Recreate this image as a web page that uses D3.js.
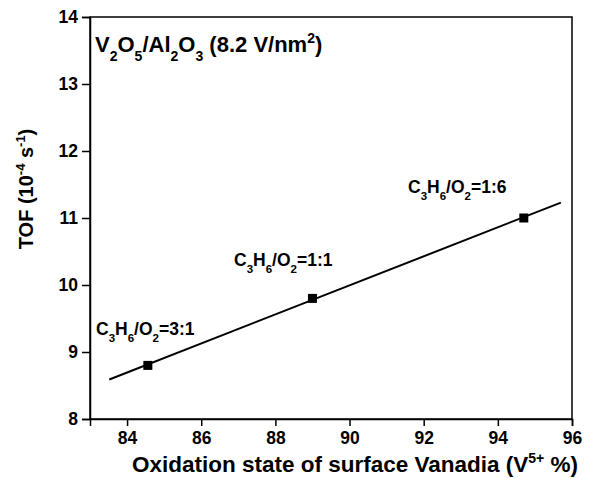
<!DOCTYPE html>
<html><head><meta charset="utf-8">
<script src="https://cdn.jsdelivr.net/npm/d3@7"></script>
<style>
body{margin:0;background:#fff;}
text{font-family:"Liberation Sans",Arial,sans-serif;font-weight:bold;fill:#000;}
</style></head>
<body><svg id="c" width="598" height="479"></svg>
<script>
// Data
const oxidation = [84.56, 89.0, 94.7];
const tof = [8.8, 9.8, 11.0];
const fitX = [83.52, 95.7];
const fitY = [8.59, 11.23];
const labels = ["C3H6/O2=3:1", "C3H6/O2=1:1", "C3H6/O2=1:6"];
const xTicks = [84, 86, 88, 90, 92, 94, 96];
const yTicks = [8, 9, 10, 11, 12, 13, 14];

const svg = d3.select("#c");
const L = 90, R = 572, T = 17, B = 419;
const x = d3.scaleLinear().domain([83, 96]).range([L, R]);
const y = d3.scaleLinear().domain([8, 14]).range([B, T]);

// frame
svg.append("rect").attr("x", L).attr("y", T).attr("width", R - L).attr("height", B - T)
  .attr("fill", "none").attr("stroke", "#000").attr("stroke-width", 1.5);

// axes
const xMinor = d3.range(83, 96, 2);
const yMinor = d3.range(8.5, 14, 1);
const gx = svg.append("g").attr("transform", `translate(0,${B})`);
gx.call(d3.axisBottom(x).tickValues(xMinor).tickSize(4).tickFormat(""));
gx.call(d3.axisBottom(x).tickValues(xTicks).tickSize(7).tickPadding(6).tickFormat(d3.format("d")));
const gy = svg.append("g").attr("transform", `translate(${L},0)`);
gy.call(d3.axisLeft(y).tickValues(yMinor).tickSize(4).tickFormat(""));
gy.call(d3.axisLeft(y).tickValues(yTicks).tickSize(8).tickPadding(4).tickFormat(d3.format("d")));
svg.selectAll(".domain").attr("stroke-width", 1.5);
svg.selectAll(".tick line").attr("stroke-width", 1.5);
svg.selectAll(".tick text").style("font-size", "17.5px").style("font-family", "'Liberation Sans',Arial,sans-serif").style("font-weight", "bold");

// fit line
svg.append("path")
  .datum(fitX.map((v, i) => [v, fitY[i]]))
  .attr("d", d3.line().x(d => x(d[0])).y(d => y(d[1])))
  .attr("fill", "none").attr("stroke", "#000").attr("stroke-width", 2);

// markers
svg.selectAll("rect.pt").data(oxidation).enter().append("rect").attr("class", "pt")
  .attr("x", (d) => x(d) - 4.5).attr("y", (d, i) => y(tof[i]) - 4.5)
  .attr("width", 9).attr("height", 9).attr("fill", "#000");

// rich text helper: parts [text, mode] mode: 0 normal, 1 sub, 2 sup
function rich(px, py, parts, size, subSize, subOff) {
  const t = svg.append("text").attr("x", px).attr("y", py).style("font-size", size + "px");
  let prev = 0;
  const so = subOff || 0.35;
  parts.forEach(([s, m]) => {
    const off = (m === 1 ? size * so : m === 2 ? -size * 0.42 : 0);
    const prevOff = (prev === 1 ? size * so : prev === 2 ? -size * 0.42 : 0);
    t.append("tspan").attr("dy", off - prevOff).style("font-size", (m ? subSize : size) + "px").text(s);
    prev = m;
  });
  return t;
}
function chem(lbl) {
  const eq = lbl.indexOf("=");
  const head = lbl.slice(0, eq), tail = lbl.slice(eq);
  const parts = [];
  head.replace(/([^0-9]+)|([0-9]+)/g, (m, a, b) => { parts.push(a ? [a, 0] : [b, 1]); });
  parts.push([tail, 0]);
  return parts;
}

const labelPos = [[96, 335], [234, 266], [408, 193]];
labels.forEach((l, i) => rich(labelPos[i][0], labelPos[i][1], chem(l), 17.5, 11.5, 0.38));

// title
rich(95, 52, [["V",0],["2",1],["O",0],["5",1],["/Al",0],["2",1],["O",0],["3",1],[" (8.2 V/nm",0],["2",2],[")",0]], 22, 14, 0.4);

// x label
const xl = rich(0, 472, [["Oxidation state of surface Vanadia (V",0],["5+",2],[" %)",0]], 22.5, 14);
const bw = xl.node().getBBox().width;
xl.attr("x", 355 - bw / 2);

// y label
const yl = svg.append("g").attr("transform", "translate(33,189) rotate(-90)");
const ylt = yl.append("text").style("font-size", "20px");
[["TOF (10",0],["-4",2],[" s",0],["-1",2],[")",0]].reduce((prev, [s, m]) => {
  const off = m === 2 ? -8 : 0;
  const po = prev === 2 ? -8 : 0;
  ylt.append("tspan").attr("dy", off - po).style("font-size", (m ? 13 : 20) + "px").text(s);
  return m;
}, 0);
const yw = ylt.node().getBBox().width;
ylt.attr("x", -yw / 2);
</script></body></html>
